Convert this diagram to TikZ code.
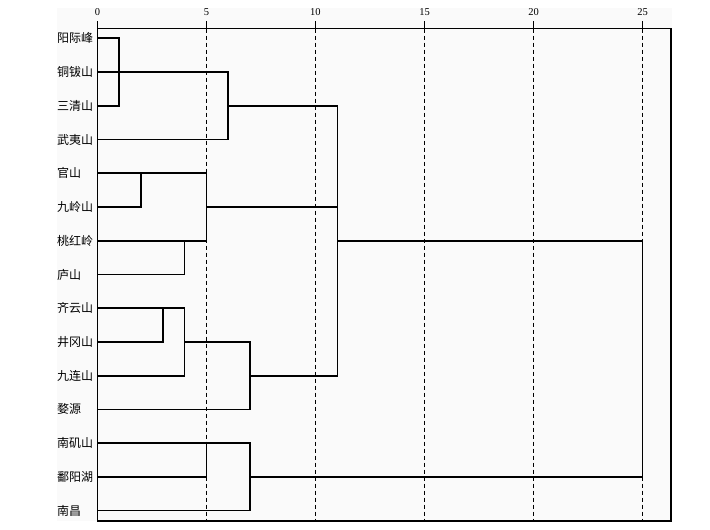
\documentclass[tikz,border=0pt]{standalone}
\usepackage{fontspec}
\setmainfont{Liberation Serif}
\newfontfamily\cjk{Noto Sans CJK SC}
\newlength{\du}
\setlength{\du}{1pt}
\definecolor{panelcolor}{rgb}{0.980000, 0.980000, 0.980000}
\definecolor{dialinecolor}{rgb}{0.000000, 0.000000, 0.000000}
\tikzset{
  treeline/.style={draw=dialinecolor, line width=1.6\du, line join=miter},
  gridline/.style={draw=dialinecolor, line width=1.1\du, dash pattern=on 4\du off 3\du},
  tickline/.style={draw=dialinecolor, line width=1.6\du},
  sitelabel/.style={anchor=west, inner sep=0pt, font=\cjk\fontsize{12}{14}\selectfont},
  ticklabel/.style={inner sep=0pt, font=\fontsize{10.5}{12}\selectfont}
}

\begin{document}
\begin{tikzpicture}[x=21.8\du, y=-33.74\du]
\useasboundingbox (-4.472,-1.135) rectangle (28.096,14.544);
\fill[panelcolor] (-1.858,-0.898) rectangle (26.34,14.31);
% scale
\foreach \v in {5,10,...,25}
  \draw[gridline] (\v,-0.285) -- (\v,14.30);
\foreach \v in {0,5,...,25}{
  \draw[tickline] (\v,-0.51) -- (\v,-0.285);
  \node[ticklabel] (t\v) at (\v,-0.78) {\v};
}
\draw[treeline] (0,-0.285) rectangle (26.32,14.30);
% sites
\foreach \name [count=\i] in {阳际峰,铜钹山,三清山,武夷山,官山,九岭山,桃红岭,庐山,齐云山,井冈山,九连山,婺源,南矶山,鄱阳湖,南昌}{
  \coordinate (r\i) at (0,\i-1);
  \node[sitelabel] (n\i) at (-1.858,\i-1) {\name};
}
\coordinate (ja) at (1,1);
\coordinate (jb) at (6,2);
\coordinate (jc) at (2,4.5);
\coordinate (jd) at (5,5);
\coordinate (je) at (4,6.5);
\coordinate (jf) at (3,8.5);
\coordinate (jg) at (4,9);
\coordinate (jh) at (7,10);
\coordinate (ji) at (11,6);
\coordinate (jj) at (5,12.5);
\coordinate (jk) at (7,13);
\coordinate (jl) at (25,9);
\draw[treeline] (r1) -| (ja) |- (r3);
\draw[treeline] (r2) -| (jb) |- (r4);
\draw[treeline] (r5) -| (jc) |- (r6);
\draw[treeline] (r5) -| (jd) |- (r7);
\draw[treeline] (r7) -| (je) |- (r8);
\draw[treeline] (r9) -| (jf) |- (r10);
\draw[treeline] (r9) -| (jg) |- (r11);
\draw[treeline] (jg) -| (jh) |- (r12);
\draw[treeline] (jb) -| (ji);
\draw[treeline] (jd) -| (ji);
\draw[treeline] (jh) -| (ji);
\draw[treeline] (r13) -| (jj) |- (r14);
\draw[treeline] (r13) -| (jk) |- (r15);
\draw[treeline] (ji) -| (jl) |- (jk);
\end{tikzpicture}
\end{document}
